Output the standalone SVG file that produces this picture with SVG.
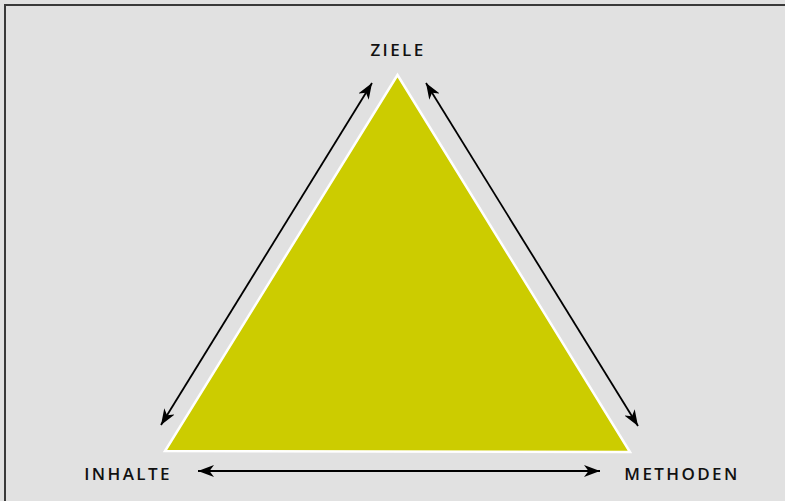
<svg xmlns="http://www.w3.org/2000/svg" width="785" height="501" viewBox="0 0 785 501">
  <defs>
    <marker id="ah" viewBox="0 0 16 12" refX="16" refY="6" markerWidth="16" markerHeight="12" markerUnits="userSpaceOnUse" orient="auto-start-reverse">
      <path d="M0,0 L16,6 L0,12 L4.5,6 z" fill="#000"/>
    </marker>
    <style>
      .lbl { font-family: "Open Sans", "Liberation Sans", sans-serif; font-weight: 600; font-size: 17px; letter-spacing: 2.4px; fill: #111; }
      .conn { stroke: #000; stroke-width: 1.8; fill: none; marker-start: url(#ah); marker-end: url(#ah); }
    </style>
  </defs>
  <rect x="0" y="0" width="785" height="501" fill="#e1e1e1"/>
  <path d="M5,501 V5 H785" fill="none" stroke="#3a3a3a" stroke-width="2"/>
  <g id="triangle">
    <polygon points="397.5,75 165,451 630,452" fill="#cccc00" stroke="#ffffff" stroke-width="2.5" stroke-linejoin="miter"/>
  </g>
  <g id="ziele"><text class="lbl" x="398" y="56" text-anchor="middle">ZIELE</text></g>
  <g id="inhalte"><text class="lbl" x="128" y="480" text-anchor="middle">INHALTE</text></g>
  <g id="methoden"><text class="lbl" x="682" y="480" text-anchor="middle">METHODEN</text></g>
  <g id="connectors">
    <line class="conn" x1="161" y1="425" x2="372" y2="83"/>
    <line class="conn" x1="426" y1="83" x2="638" y2="426"/>
    <line class="conn" x1="198" y1="471" x2="600" y2="471"/>
  </g>
</svg>
